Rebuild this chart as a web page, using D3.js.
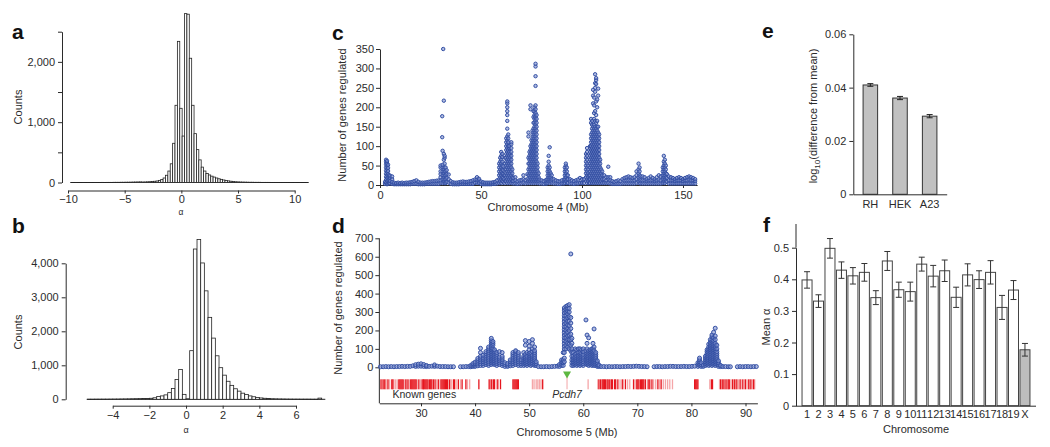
<!DOCTYPE html>
<html><head><meta charset="utf-8">
<script src="https://cdn.jsdelivr.net/npm/d3@7/dist/d3.min.js"></script>
<style>html,body{margin:0;padding:0;background:#fff;}svg{display:block;}</style>
</head><body>
<svg id="fig" width="1050" height="447"></svg>
<script>
// ================= DATA =================
// Panel a: histogram of alpha (bins of 0.21 starting at -9.8)
const aBinStart = -9.8, aBinWidth = 0.21;
const aCounts = [0,0,1,0,0,1,0,1,1,0, 1,1,1,2,1,2,2,2,3,3, 3,4,4,5,5,6,7,8,9,10,
  8,9,11,13,16,20,25,35,50,75, 120,190,310,650,1280,2340,1230,770,2800,2790,
  2060,1280,810,545,375,255,190,150,125,105, 90,75,62,52,42,34,27,21,16,12,
  10,8,7,6,5,4,4,3,3,3, 2,2,2,2,1,1,1,1,1,1, 1,1,1,0,1,0,1,0,0,1];
const aXTicks = [-10,-5,0,5,10];
const aYTicks = [0,500,1000,1500,2000,2500];

// Panel b: histogram of alpha (bins of 0.2 starting at -5.4)
const bBinStart = -5.4, bBinWidth = 0.2;
const bCounts = [1,1,2,2,3,3,4,5, 6,8,10,12,15, 18,20,22,26,
  30,45,80,100,130,195,315,580,875,145, 15,
  1430,4420,4700,4010,3190,2410,1800,1280,930,710,530,410,310,240,180,140,100,75,55,40,30,22,16,12,9,7,5,
  4,3,3,2,2,2,1,1, 35,0];
const bXTicks = [-4,-2,0,2,4,6];
const bYTicks = [0,1000,2000,3000,4000];

// Panel c: chromosome 4 — [position (Mb), number of genes regulated ...]
const chr4Groups = [
[2.5,3,8],[3,5,13,21,29,37,45,53,60,65],[3.5,2,10,18,26,34,42,50,56,62],[4,4,12,20,28,36,44,52],[4.5,5,12,20,25],[5,4,10,18,24],[6,3,8,15,22],
[7,2,6],[8,2,5],[9,2,6],[10,2,5],[11,2,6],[12,2,5],[13,2,6],[14,2,6],[15,2,7],[16,3,8],[17,3,10],[18,3,12],[19,2,8],[20,2,6],[21,2,6],[22,2,6],[23,3,7],[24,3,8],[25,3,9],[26,3,10],[27,3,10],[28,3,11],[29,3,12],
[30,5,12,20,28,35,45,50],[30.8,123,177],[31,5,15,25,35,45,52,88],[31.3,350],[31.6,10,20,30,40,65,80,217],[32,5,15,25,35,45,55,70,75],[32.5,5,15,25,35,45],[33,8,18,28,38],[34,6,15,27],
[35,3,10],[36,2,7],[37,2,6],[38,2,6],[39,2,7],[40,3,8],[41,3,9],[42,3,8],[43,3,8],[44,3,9],[45,3,10],[46,3,12],[47,5,14],[48,6,14,20],[49,5,12,16],[50,3,9],[51,2,7],[52,2,6],[53,2,6],[54,2,6],[55,2,6],[56,3,7],[57,3,8],[58,4,12],
[59,5,15,25,35,45,55],[59.5,10,20,30,40,50,60,70],[60,5,15,25,35,45,55,65,75,85],[60.5,10,20,30,40,50,60,72,80],[61,8,18,28,38,48],[61.5,5,15,25],
[62,10,25,40,55,70],[62.5,10,20,30,40,50,60,70,80,90,100,110,120],[63,5,15,25,35,45,55,65,75,85,95,105,115,125,145,165,180,190,200,210,215],
[63.5,10,20,30,40,50,60,70,80,90,100,110,120,130],[64,5,15,25,35,45,55,65,75,85,95,100],[64.5,10,20,30,40,50,60,70,80],[65,5,15,25,35,45,55,65,75,85,95,105,110],[65.5,10,20,30,40],
[66,4,10,18],[67,4,12,20],[68,3,9],[69,4,12],[70,4,13],[71,5,15,25],[72,4,13],[73,5,15,28],
[73.5,10,25,40,55,70,125,135],[74,5,15,25,35,45,55,65,75,85],[74.5,10,20,30,40,50,60,70,80,90,100,195,205],[75,5,15,25,35,45,55,65,75,85,95,105,115],
[75.5,10,20,30,40,50,60,70,80,90,100,110,120,130,140],[76,5,15,25,35,45,55,65,75,85,95,105,115,125,135,145,160,175,190],
[76.5,10,20,30,40,50,60,70,80,90,100,110,120,130,140,150,160,170,180,190,200],
[77,5,15,25,35,45,55,65,75,85,95,105,115,125,135,145,155,165,175,185,195,205,255,280,305,312],
[77.5,10,20,30,40,50,60,70,80,90,100,110,120,130,140,150,160,170,180],[78,5,15,25,35,45,55],[78.5,10,20,30],
[79,4,14],[80,4,12],[81,3,10],[82,4,12],[82.5,4,14],
[83,5,15,25,35,45],[83.5,10,20,30,40,50,60,75],[84,5,15,25,35,45,97],[84.5,10,20,30],[85,5,15,25],
[86,4,15],[87,4,12],[88,3,10],[89,3,9],[90,4,12],[91,4,14],
[91.5,5,15,25,35,45],[92,10,20,30,40,50,55],[92.5,5,15,25,35,45],[93,5,15,25],
[94,4,15],[95,4,12],[96,3,10],[97,4,12],[98,4,14],[99,5,18],[100,5,15],[101,5,15],
[102,10,20,30,40,50,60,70,80],[102.5,5,15,25,35,45,55,65,75,85,95],[103,10,20,30,40,50],[103.5,5,15,25],
[104,5,15,25,35,45,55,65,75,85,95,100],[104.5,10,20,30,40,50,60,70,80,90,100,110,120,130,160,170],
[105,5,15,25,35,45,55,65,75,85,95,105,115,125,135,145,155,165],[105.5,10,20,30,40,50,60,70,80,90,100,110,120,130,140,150,210,230,245],
[106,5,15,25,35,45,55,65,75,85,95,105,115,125,135,145,155,170,185,205,225],
[106.5,10,20,30,40,50,60,70,80,90,100,110,120,130,140,150,165,190,240,250,262,285],
[107,5,15,25,35,45,55,65,75,85,95,105,115,125,135,145,160,180,215,260,270,275],
[107.5,10,20,30,40,50,60,70,80,90,100,110,120,130,140,150,165,200,220],
[108,5,15,25,35,45,55,65,75,85,95,105,115,125,135,150,230,248],
[108.5,10,20,30,40,50,60,70,80,90,100,110,120,130],[109,5,15,25,35,45,55,65],[109.5,10,20,30,40],
[110,5,15,25,35],[111,5,15,25],[112,5,12,20],[113,5,15,20,47],[114,4,12,20],[115,3,10],[116,3,8],[117,3,10],[118,3,12],[119,3,10],[120,4,15],
[121,4,12,18],[122,4,12,20],[123,4,12,22],[124,4,12,20],[125,4,12,18],[126,4,12,20],[127,5,15,25,35],[128,10,20,30,40,55],[128.5,5,15,25,35,45],
[129,4,12,22],[130,4,12,22],[131,4,12,20],[132,4,10,15],[133,4,12,18],[134,4,12,22],[135,4,12,18],[136,4,10,15],[137,4,12,20],[138,4,14,25],[139,4,12,22],
[140,5,15,25,35,45],[140.5,10,20,30,40,50,60,75],[141,5,15,25,35,45,55,65],[141.5,10,20,30,40,50],[142,8,18,28],
[143,4,12,22],[144,4,12,20],[145,4,12,18],[146,4,10,15],[147,4,12,18],[148,4,12,20],[149,4,12,18],[150,4,10,15],[151,4,12,18],[152,4,12,20],[153,4,14,22],[154,4,12,20],[155,4,12,18],[156,4,10,15]
];
const chr4XTicks = [0,50,100,150];
const chr4YTicks = [0,50,100,150,200,250,300,350];

// Panel d: chromosome 5 — [position (Mb), number of genes regulated ...]
const chr5Groups = [
[22.5,3],[23,3],[23.5,4],[24,3],[24.5,4],[25,3],[25.5,4],[26,4],[26.5,5],[27,4],[27.5,5],[28,5],[28.5,8],[29,5,14],[29.5,6,17],[30,6,19],[30.5,5,15],[31,4,10],[31.5,5],[32,6],[32.5,5,13],[33,6],[33.5,4],[34,4],[34.5,4],[35,3],[35.5,3],[36,3],
[37.3,3],[37.8,3],[38.3,4],[38.8,4],
[39.2,3,10],[39.6,5,12,20],[40,5,12,20,28],[40.5,8,18,28,38,48],[41,10,20,30,40,50,60,80,103],[41.5,10,20,30,40,50,65],[42,15,25,35,45,55,65,75,85],
[42.5,10,20,30,40,50,60,70,80,90,100,110],[43,15,25,35,45,55,65,75,85,95,105,115,125,135,145,157],[43.3,20,30,40,50,60,70,80,90,100,120,130,140],
[43.6,15,25,35,45,55,65,75,85,95],[44,10,20,30,40,50,60,70,80],[44.5,15,25,35,45,55,85],[45,10,20,30,40,50,60,80],
[45.5,5,15,25],[46,5,12,20],[46.5,8,18,30,40],[47,10,20,30,40,50,60,70,80],[47.5,15,25,35,45,55,65,75,85,90],[48,10,20,30,40,50,60,70,80],[48.5,10,20,30,40],
[49,10,20,30,40,50,60,80],[49.3,15,25,35,45,55,70,120,145],[49.6,10,20,30,40,50,60,80],[50,15,25,35,45,55,65,75,95,115,140],[50.3,10,20,30,40,50,60,70,80],
[50.6,15,25,35,45,55,65,85,100,130,150],[51,10,20,30,40,50,60,70,80,90,110],[51.3,10,20,30],
[51.7,4],[52.2,3],[52.7,3],[53.2,4],[53.7,3],[54.2,4],[54.7,5],[55.2,6],[55.6,5,15],[56,10,20,30,40],[56.3,10,25,40,80],
[56.5,30,50,80,100,115,130,145,160,175,190,205,220,235,250,265,280,295,310,322],
[56.8,100,120,140,160,180,200,220,240,260,280,300,315,330],
[57.1,110,130,150,170,190,210,230,250,270,290,305,320,335],
[57.4,100,125,150,175,200,225,250,275,300,320,340],
[57.7,90,120,150,180,210,240,270,615],
[57.9,10,25,40,60,80,100,130,157],
[58.2,10,20,30,40,50,60,80],[58.5,15,25,35,45,55,70,100],[58.8,10,20,30,40,50,60,75,95],[59.1,15,25,35,45,55,65,80,100],
[59.4,10,20,30,40,50,60,70,80,100],[59.7,15,25,35,45,55,65,75,95],[60,10,20,30,40,50,60,70,85,100],[60.5,20,40,60,90,257],
[60.7,15,25,35,45,55,65,75,100,130,175],[61,10,20,30,40,50,60,70,80,90,160],[61.3,15,25,35,45,55,65,75,85,95],
[61.6,10,20,30,40,50,60,70,80,90,100],[61.8,15,25,35,45,55,65,75,85,100,130],[62,10,20,30,40,50,60,70,80,90,110,208],
[62.3,10,20,30,40,50,60,70,80],[62.6,5,15,25,35],[62.9,5,12],
[63.3,4],[63.8,4],[64.3,3],[64.8,4],[65.3,3],[65.8,4],[66.3,4],[66.8,3],[67.3,4],[67.8,4],[68.3,5],[68.8,4],[69.3,5],[69.8,6],[70.3,5],[70.8,4],[71.3,4],[71.8,3],
[73.1,3],[73.6,4],[74.1,4],[74.6,3],[75.1,4],[75.6,4],[76.1,5],[76.6,5],[77.1,4],[77.6,4],[78.1,4],[78.6,5],[79.1,4],[79.6,4],[80.1,5],[80.6,6],
[81.2,5,15,25],[81.5,10,20,30,40,50],[81.8,5,15,25],[82.2,5,12],
[82.6,10,20,30,40,50,60],[82.9,15,25,35,45,55,65,75,85,95],[83.2,10,20,30,40,50,60,70,80,90,100,110,125],
[83.5,15,25,35,45,55,65,75,85,95,105,115,125,135,150],[83.8,10,20,30,40,50,60,70,80,90,100,110,120,130,140,150,165,175],
[84.1,15,25,35,45,55,65,75,85,95,105,115,125,135,145,160,190],[84.4,10,20,30,40,50,60,70,80,90,100,110,120,130,150,170,212],
[84.7,15,25,35,45,55,65,75,85,100,120],[85,5,15,25,35],
[85.4,4,10],[85.8,4],[86.3,4],[86.8,3],[87.2,3],
[88.5,3],[89,4],[89.5,3],[90,4],[90.5,4],[91,3],[91.5,4],[92,4]
];
const chr5XTicks = [30,40,50,60,70,80,90];
const chr5YTicks = [0,100,200,300,400,500,600,700];
const genesDark = [22.6,23.0,23.3,23.9,24.6,24.8,25.9,26.1,26.3,26.5,26.7,27.2,27.6,28.1,28.3,28.5,28.7,28.9,29.1,29.6,30.2,30.4,30.5,30.7,30.9,31.1,31.3,31.6,31.8,32.0,32.3,32.6,33.2,33.7,33.9,34.1,34.3,34.5,34.7,34.9,35.3,36.0,36.2,36.9,37.6,38.3,
  40.7,42.6,43.0,43.4,43.6,44.2,44.7,47.0,47.2,47.4,47.6,47.8,48.0,52.5,
  62.9,63.2,63.5,63.7,63.9,64.1,64.4,64.6,64.9,65.2,65.4,65.8,66.0,66.4,67.3,67.8,69.3,69.9,70.1,70.3,70.6,70.8,71.0,71.2,71.5,72.0,72.3,72.7,73.8,74.4,
  80.6,80.8,81.0,81.2,83.7,83.9,85.4,85.7,86.0,86.4,86.8,87.0,87.6,88.0,88.4,89.0,89.5,90.0,90.6,91.0,91.5];
const genesLight = [22.8,23.5,23.7,24.2,25.0,25.3,25.6,27.0,27.4,27.9,29.3,29.9,32.9,33.5,35.0,35.6,36.5,37.3,38.6,39.0,42.8,43.2,44.0,
  50.6,50.9,51.3,51.6,51.9,52.2,60.9,62.7,66.8,67.1,68.2,68.6,69.6,73.0,73.4,74.1,74.8,75.2,75.6,76.0,76.5,
  83.4,85.2,86.2,86.6,87.3,87.8,88.2,88.7,89.2,89.8,90.3,90.8,91.3,91.7];
const pcdh7Mb = 57.0;

// Panel e
const eLines = ["RH","HEK","A23"];
const eVals = [0.041,0.0361,0.0293];
const eErr = [0.0005,0.0006,0.0006];
const eYTicks = [0,0.02,0.04,0.06];

// Panel f
const fChroms = ["1","2","3","4","5","6","7","8","9","10","11","12","13","14","15","16","17","18","19","X"];
const fMeans = [0.398,0.331,0.498,0.429,0.411,0.422,0.342,0.458,0.367,0.361,0.448,0.410,0.427,0.343,0.414,0.399,0.422,0.311,0.366,0.177];
const fErr = [0.026,0.020,0.031,0.026,0.026,0.028,0.022,0.030,0.024,0.030,0.022,0.034,0.034,0.032,0.035,0.028,0.037,0.038,0.030,0.020];
const fYTicks = [0,0.1,0.2,0.3,0.4,0.5];

// ================= DRAWING =================
const FONT = '"Liberation Sans", Arial, Helvetica, sans-serif';
const INK = "#2b2b2b";
const svg = d3.select("#fig");
svg.append("rect").attr("width",1050).attr("height",447).attr("fill","#fff");

function fmtAxis(g){
  g.attr("font-family",FONT).attr("font-size",11);
  g.selectAll(".domain").attr("stroke",INK).attr("stroke-width",1);
  g.selectAll(".tick line").attr("stroke",INK).attr("stroke-width",1);
  g.selectAll(".tick text").attr("fill",INK);
}
function text(x,y,s,o={}){
  const t = svg.append("text").attr("x",x).attr("y",y).text(s)
    .attr("font-family",FONT).attr("font-size",o.size||11).attr("fill",INK)
    .attr("text-anchor",o.anchor||"middle");
  if(o.weight) t.attr("font-weight",o.weight);
  if(o.style) t.attr("font-style",o.style);
  return t;
}
function vtext(cx,cy,s,size){
  return svg.append("text").attr("transform",`translate(${cx},${cy}) rotate(-90)`)
    .attr("dy","0.35em").attr("text-anchor","middle").attr("font-family",FONT)
    .attr("font-size",size||11).attr("fill",INK).text(s);
}
function panelLetter(x,y,s){ text(x,y,s,{size:21,weight:"bold",anchor:"start"}).attr("fill","#111"); }

function histogram(counts,start,width,x,y){
  const g = svg.append("g");
  const n = counts.length;
  g.append("line").attr("x1",x(start)).attr("x2",x(start+n*width))
    .attr("y1",y(0)).attr("y2",y(0)).attr("stroke","#222").attr("stroke-width",1);
  g.selectAll("rect").data(counts.map((c,i)=>({c,i})).filter(d=>d.c>0)).join("rect")
    .attr("x",d=>x(start+d.i*width)).attr("width",x(start+width)-x(start))
    .attr("y",d=>y(d.c)).attr("height",d=>y(0)-y(d.c))
    .attr("fill","#fff").attr("stroke","#222").attr("stroke-width",0.8);
}

// ---------- Panel a ----------
{
  const x = d3.scaleLinear().domain([-10,10]).range([68,294.7]);
  const y = d3.scaleLinear().domain([0,2500]).range([182.5,31.7]);
  histogram(aCounts,aBinStart,aBinWidth,x,y);
  svg.append("g").attr("transform","translate(62,0)")
    .call(d3.axisLeft(y).tickValues(aYTicks).tickFormat(d=>d%1000===0?d3.format(",")(d):"").tickSize(4).tickSizeOuter(0).tickPadding(3)).call(fmtAxis);
  svg.append("g").attr("transform","translate(0,190.5)")
    .call(d3.axisBottom(x).tickValues(aXTicks).tickSize(3).tickSizeOuter(0).tickPadding(2)).call(fmtAxis);
  text(181,215,"α",{size:8.5});
  vtext(18,107,"Counts");
  panelLetter(12,39,"a");
}
// ---------- Panel b ----------
{
  const x = d3.scaleLinear().domain([-4,6]).range([112.7,296]);
  const y = d3.scaleLinear().domain([0,4000]).range([399.3,263.3]);
  histogram(bCounts,bBinStart,bBinWidth,x,y);
  svg.append("g").attr("transform","translate(65.7,0)")
    .call(d3.axisLeft(y).tickValues(bYTicks).tickFormat(d3.format(",")).tickSize(4).tickSizeOuter(0).tickPadding(3)).call(fmtAxis);
  svg.append("g").attr("transform","translate(0,405.7)")
    .call(d3.axisBottom(x).tickValues(bXTicks).tickSize(3).tickSizeOuter(0).tickPadding(3)).call(fmtAxis);
  text(186,433,"α",{size:9});
  vtext(18,332,"Counts");
  panelLetter(12,233,"b");
}

function scatter(groups,x,y,r){
  const pts = groups.flatMap(gr=>gr.slice(1).map(v=>({mb:gr[0],v})));
  svg.append("g").selectAll("circle").data(pts).join("circle")
    .attr("cx",d=>x(d.mb)).attr("cy",d=>y(d.v)).attr("r",r)
    .attr("fill","#7d8fcf").attr("fill-opacity",0.6)
    .attr("stroke","#3450a4").attr("stroke-width",1);
}
// ---------- Panel c ----------
{
  const x = d3.scaleLinear().domain([0,157]).range([380,380+157*2.02]);
  const y = d3.scaleLinear().domain([0,350]).range([185,49]);
  svg.append("g").attr("transform","translate(380,0)")
    .call(d3.axisLeft(y).tickValues(chr4YTicks).tickSize(4).tickSizeOuter(0).tickPadding(2)).call(fmtAxis);
  svg.append("g").attr("transform","translate(0,185)")
    .call(d3.axisBottom(x).tickValues(chr4XTicks).tickSize(3).tickSizeOuter(0).tickPadding(3)).call(fmtAxis);
  scatter(chr4Groups,x,y,1.7);
  text(538,211,"Chromosome 4 (Mb)");
  vtext(342,115,"Number of genes regulated",11);
  panelLetter(332,40,"c");
}
// ---------- Panel d ----------
{
  const x = d3.scaleLinear().domain([30,90]).range([421,745.5]);
  const y = d3.scaleLinear().domain([0,700]).range([367.3,238.3]);
  const x0 = x(22.3), x1 = x(92.2), yAxisBottom = 403.3;
  // gene track
  const gt = svg.append("g");
  gt.selectAll("rect.l").data(genesLight).join("rect").attr("class","l")
    .attr("x",d=>x(d)-0.65).attr("width",1.3).attr("y",379.3).attr("height",10).attr("fill","#f5a6a8");
  gt.selectAll("rect.dk").data(genesDark).join("rect").attr("class","dk")
    .attr("x",d=>x(d)-0.65).attr("width",1.3).attr("y",379.3).attr("height",10).attr("fill","#e6161e");
  gt.append("line").attr("x1",x(pcdh7Mb)).attr("x2",x(pcdh7Mb)).attr("y1",377).attr("y2",389.3)
    .attr("stroke","#f4b4b6").attr("stroke-width",1.2);
  const px = x(pcdh7Mb);
  gt.append("path").attr("d",`M${px-4},371.5 L${px+4},371.5 L${px},378.6 Z`).attr("fill","#5db840");
  text(392.5,397.5,"Known genes",{size:10.5,anchor:"start"});
  text(px,397.5,"Pcdh7",{size:10.5,style:"italic"});
  // axes
  const ya = svg.append("g").attr("transform",`translate(${x0},0)`)
    .call(d3.axisLeft(y).tickValues(chr5YTicks).tickSize(4).tickSizeOuter(0).tickPadding(2)).call(fmtAxis);
  ya.select(".domain").remove();
  svg.append("line").attr("x1",x0).attr("x2",x0).attr("y1",y(700)).attr("y2",yAxisBottom).attr("stroke",INK);
  const xs = d3.scaleLinear().domain([22.3,92.2]).range([x0,x1]);
  svg.append("g").attr("transform",`translate(0,${yAxisBottom})`)
    .call(d3.axisBottom(xs).tickValues(chr5XTicks).tickSize(3).tickSizeOuter(0).tickPadding(3)).call(fmtAxis);
  scatter(chr5Groups,x,y,2.0);
  text(567,436,"Chromosome 5 (Mb)");
  vtext(338,308,"Number of genes regulated");
  panelLetter(332,233,"d");
}
// ---------- Panel e ----------
{
  const y = d3.scaleLinear().domain([0,0.06]).range([194.3,34.3]);
  const x = d3.scaleBand().domain(eLines).range([853.3,946.7]).paddingInner(0.51).paddingOuter(0.33);
  svg.append("g").selectAll("rect").data(eLines).join("rect")
    .attr("x",d=>x(d)).attr("width",x.bandwidth())
    .attr("y",(d,i)=>y(eVals[i])).attr("height",(d,i)=>y(0)-y(eVals[i]))
    .attr("fill","#c1c1c1").attr("stroke","#333").attr("stroke-width",1);
  const eb = svg.append("g").attr("stroke","#222").attr("stroke-width",1);
  eLines.forEach((d,i)=>{
    const cx = x(d)+x.bandwidth()/2;
    eb.append("line").attr("x1",cx).attr("x2",cx).attr("y1",y(eVals[i]-eErr[i])).attr("y2",y(eVals[i]+eErr[i]));
    [eVals[i]-eErr[i],eVals[i]+eErr[i]].forEach(v=>eb.append("line").attr("x1",cx-3).attr("x2",cx+3).attr("y1",y(v)).attr("y2",y(v)));
  });
  svg.append("g").attr("transform","translate(853.3,0)")
    .call(d3.axisLeft(y).tickValues(eYTicks).tickFormat(d=>d===0?"0":d3.format(".2f")(d)).tickSize(4).tickSizeOuter(0).tickPadding(3)).call(fmtAxis);
  svg.append("g").attr("transform","translate(0,194.3)")
    .call(d3.axisBottom(x).tickSize(0).tickSizeOuter(0).tickPadding(6)).call(fmtAxis);
  const t = svg.append("text").attr("transform","translate(813.3,116) rotate(-90)").attr("dy","0.35em")
    .attr("text-anchor","middle").attr("font-family",FONT).attr("font-size",11).attr("fill",INK);
  t.append("tspan").text("log");
  t.append("tspan").attr("dy",3).attr("font-size",8).text("10");
  t.append("tspan").attr("dy",-3).text("(difference from mean)");
  panelLetter(762,38,"e");
}
// ---------- Panel f ----------
{
  const y = d3.scaleLinear().domain([0,0.5]).range([405.7,247.7]);
  const x = d3.scaleBand().domain(fChroms).range([796,1036]).paddingInner(0.128).paddingOuter(0.526);
  svg.append("g").selectAll("rect").data(fChroms).join("rect")
    .attr("x",d=>x(d)).attr("width",x.bandwidth())
    .attr("y",(d,i)=>y(fMeans[i])).attr("height",(d,i)=>y(0)-y(fMeans[i]))
    .attr("fill",d=>d==="X"?"#bdbdbd":"#fff").attr("stroke","#444").attr("stroke-width",1);
  const eb = svg.append("g").attr("stroke","#333").attr("stroke-width",1);
  fChroms.forEach((d,i)=>{
    const cx = x(d)+x.bandwidth()/2;
    eb.append("line").attr("x1",cx).attr("x2",cx).attr("y1",y(fMeans[i]-fErr[i])).attr("y2",y(fMeans[i]+fErr[i]));
    [fMeans[i]-fErr[i],fMeans[i]+fErr[i]].forEach(v=>eb.append("line").attr("x1",cx-3).attr("x2",cx+3).attr("y1",y(v)).attr("y2",y(v)));
  });
  svg.append("g").attr("transform","translate(796,0)")
    .call(d3.axisLeft(y).tickValues(fYTicks).tickFormat(d=>d===0?"0":d3.format(".1f")(d)).tickSize(4).tickSizeOuter(0).tickPadding(3)).call(fmtAxis);
  svg.append("line").attr("x1",796).attr("x2",796).attr("y1",y(0.575)).attr("y2",y(0.5)).attr("stroke",INK);
  svg.append("g").attr("transform","translate(0,405.7)")
    .call(d3.axisBottom(x).tickSize(0).tickSizeOuter(0).tickPadding(5)).call(fmtAxis)
    .select(".domain").attr("d","M796,0.5H1036");
  vtext(766,327,"Mean α");
  text(916,433,"Chromosome");
  panelLetter(763,232,"f");
}
</script>
</body></html>
